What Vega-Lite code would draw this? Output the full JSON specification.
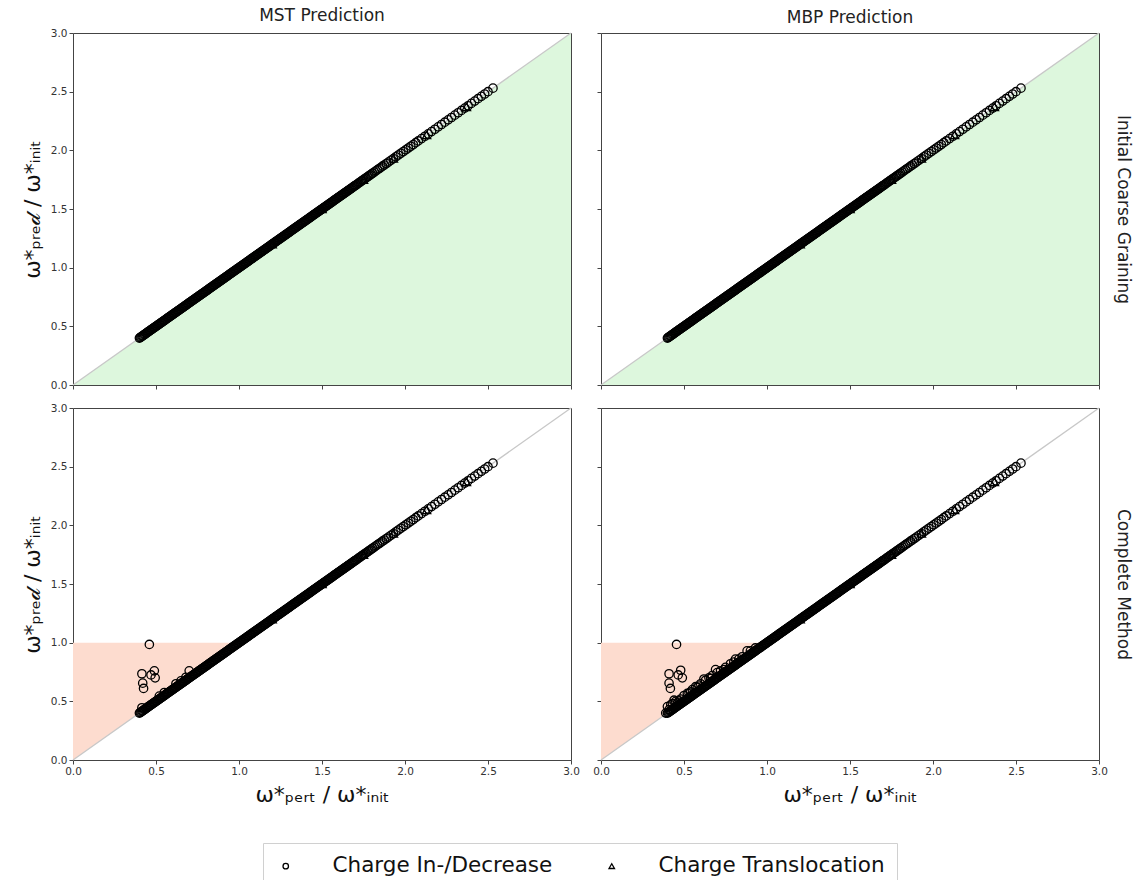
{
  "$schema": "https://vega.github.io/schema/vega-lite/v6.json",
  "padding": {"left": 20, "top": 6, "right": 5, "bottom": 0},
  "config": {
    "font": "DejaVu Sans",
    "view": {"stroke": "#444", "strokeWidth": 1},
    "axis": {"grid": false, "domain": false, "tickColor": "#444", "tickSize": 4, "labelColor": "#333", "labelFontSize": 10.5, "labelFont": "DejaVu Sans", "titleFont": "DejaVu Sans", "titleFontWeight": "normal", "titleColor": "#111", "labelFlush": false, "labelOverlap": false},
    "title": {"fontSize": 17, "fontWeight": "normal", "font": "DejaVu Sans", "color": "#222", "offset": 3},
    "legend": {"labelFont": "DejaVu Sans", "labelLimit": 500},
    "point": {"filled": false, "color": "black", "strokeWidth": 1.3, "size": 70, "opacity": 1}
  },
  "datasets": {
    "line": [{"x": 0, "y": 0}, {"x": 3, "y": 3}],
    "green": [{"x": 0, "y": 0, "y2": 0}, {"x": 3, "y": 3, "y2": 0}],
    "red": [{"x": 0, "y": 1, "y2": 0}, {"x": 1, "y": 1, "y2": 1}],
    "diag": [
      {"x":0.4,"y":0.4,"type":"Charge In-/Decrease"},{"x":0.405,"y":0.405,"type":"Charge In-/Decrease"},{"x":0.41,"y":0.41,"type":"Charge In-/Decrease"},{"x":0.415,"y":0.415,"type":"Charge In-/Decrease"},{"x":0.42,"y":0.42,"type":"Charge In-/Decrease"},{"x":0.425,"y":0.425,"type":"Charge In-/Decrease"},{"x":0.43,"y":0.43,"type":"Charge In-/Decrease"},{"x":0.435,"y":0.435,"type":"Charge In-/Decrease"},{"x":0.44,"y":0.44,"type":"Charge In-/Decrease"},{"x":0.445,"y":0.445,"type":"Charge In-/Decrease"},
      {"x":0.45,"y":0.45,"type":"Charge In-/Decrease"},{"x":0.455,"y":0.455,"type":"Charge In-/Decrease"},{"x":0.46,"y":0.46,"type":"Charge In-/Decrease"},{"x":0.465,"y":0.465,"type":"Charge In-/Decrease"},{"x":0.47,"y":0.47,"type":"Charge In-/Decrease"},{"x":0.475,"y":0.475,"type":"Charge In-/Decrease"},{"x":0.48,"y":0.48,"type":"Charge In-/Decrease"},{"x":0.485,"y":0.485,"type":"Charge In-/Decrease"},{"x":0.49,"y":0.49,"type":"Charge In-/Decrease"},{"x":0.495,"y":0.495,"type":"Charge In-/Decrease"},
      {"x":0.5,"y":0.5,"type":"Charge In-/Decrease"},{"x":0.505,"y":0.505,"type":"Charge In-/Decrease"},{"x":0.51,"y":0.51,"type":"Charge In-/Decrease"},{"x":0.515,"y":0.515,"type":"Charge In-/Decrease"},{"x":0.52,"y":0.52,"type":"Charge In-/Decrease"},{"x":0.525,"y":0.525,"type":"Charge In-/Decrease"},{"x":0.53,"y":0.53,"type":"Charge In-/Decrease"},{"x":0.535,"y":0.535,"type":"Charge In-/Decrease"},{"x":0.54,"y":0.54,"type":"Charge In-/Decrease"},{"x":0.545,"y":0.545,"type":"Charge In-/Decrease"},
      {"x":0.55,"y":0.55,"type":"Charge In-/Decrease"},{"x":0.555,"y":0.555,"type":"Charge In-/Decrease"},{"x":0.56,"y":0.56,"type":"Charge In-/Decrease"},{"x":0.565,"y":0.565,"type":"Charge In-/Decrease"},{"x":0.57,"y":0.57,"type":"Charge In-/Decrease"},{"x":0.575,"y":0.575,"type":"Charge In-/Decrease"},{"x":0.58,"y":0.58,"type":"Charge In-/Decrease"},{"x":0.585,"y":0.585,"type":"Charge In-/Decrease"},{"x":0.59,"y":0.59,"type":"Charge In-/Decrease"},{"x":0.595,"y":0.595,"type":"Charge In-/Decrease"},
      {"x":0.6,"y":0.6,"type":"Charge In-/Decrease"},{"x":0.605,"y":0.605,"type":"Charge In-/Decrease"},{"x":0.61,"y":0.61,"type":"Charge In-/Decrease"},{"x":0.615,"y":0.615,"type":"Charge In-/Decrease"},{"x":0.62,"y":0.62,"type":"Charge In-/Decrease"},{"x":0.625,"y":0.625,"type":"Charge In-/Decrease"},{"x":0.63,"y":0.63,"type":"Charge In-/Decrease"},{"x":0.635,"y":0.635,"type":"Charge In-/Decrease"},{"x":0.64,"y":0.64,"type":"Charge In-/Decrease"},{"x":0.645,"y":0.645,"type":"Charge In-/Decrease"},
      {"x":0.65,"y":0.65,"type":"Charge In-/Decrease"},{"x":0.655,"y":0.655,"type":"Charge In-/Decrease"},{"x":0.66,"y":0.66,"type":"Charge In-/Decrease"},{"x":0.665,"y":0.665,"type":"Charge In-/Decrease"},{"x":0.67,"y":0.67,"type":"Charge In-/Decrease"},{"x":0.675,"y":0.675,"type":"Charge In-/Decrease"},{"x":0.68,"y":0.68,"type":"Charge In-/Decrease"},{"x":0.685,"y":0.685,"type":"Charge In-/Decrease"},{"x":0.69,"y":0.69,"type":"Charge In-/Decrease"},{"x":0.695,"y":0.695,"type":"Charge In-/Decrease"},
      {"x":0.7,"y":0.7,"type":"Charge In-/Decrease"},{"x":0.705,"y":0.705,"type":"Charge In-/Decrease"},{"x":0.71,"y":0.71,"type":"Charge In-/Decrease"},{"x":0.715,"y":0.715,"type":"Charge In-/Decrease"},{"x":0.72,"y":0.72,"type":"Charge In-/Decrease"},{"x":0.725,"y":0.725,"type":"Charge In-/Decrease"},{"x":0.73,"y":0.73,"type":"Charge In-/Decrease"},{"x":0.735,"y":0.735,"type":"Charge In-/Decrease"},{"x":0.74,"y":0.74,"type":"Charge In-/Decrease"},{"x":0.745,"y":0.745,"type":"Charge In-/Decrease"},
      {"x":0.75,"y":0.75,"type":"Charge In-/Decrease"},{"x":0.755,"y":0.755,"type":"Charge In-/Decrease"},{"x":0.76,"y":0.76,"type":"Charge In-/Decrease"},{"x":0.765,"y":0.765,"type":"Charge In-/Decrease"},{"x":0.77,"y":0.77,"type":"Charge In-/Decrease"},{"x":0.775,"y":0.775,"type":"Charge In-/Decrease"},{"x":0.78,"y":0.78,"type":"Charge In-/Decrease"},{"x":0.785,"y":0.785,"type":"Charge In-/Decrease"},{"x":0.79,"y":0.79,"type":"Charge In-/Decrease"},{"x":0.795,"y":0.795,"type":"Charge In-/Decrease"},
      {"x":0.8,"y":0.8,"type":"Charge In-/Decrease"},{"x":0.805,"y":0.805,"type":"Charge In-/Decrease"},{"x":0.81,"y":0.81,"type":"Charge In-/Decrease"},{"x":0.815,"y":0.815,"type":"Charge In-/Decrease"},{"x":0.82,"y":0.82,"type":"Charge In-/Decrease"},{"x":0.825,"y":0.825,"type":"Charge In-/Decrease"},{"x":0.83,"y":0.83,"type":"Charge In-/Decrease"},{"x":0.835,"y":0.835,"type":"Charge In-/Decrease"},{"x":0.84,"y":0.84,"type":"Charge In-/Decrease"},{"x":0.845,"y":0.845,"type":"Charge In-/Decrease"},
      {"x":0.85,"y":0.85,"type":"Charge In-/Decrease"},{"x":0.855,"y":0.855,"type":"Charge In-/Decrease"},{"x":0.86,"y":0.86,"type":"Charge In-/Decrease"},{"x":0.865,"y":0.865,"type":"Charge In-/Decrease"},{"x":0.87,"y":0.87,"type":"Charge In-/Decrease"},{"x":0.875,"y":0.875,"type":"Charge In-/Decrease"},{"x":0.88,"y":0.88,"type":"Charge In-/Decrease"},{"x":0.885,"y":0.885,"type":"Charge In-/Decrease"},{"x":0.89,"y":0.89,"type":"Charge In-/Decrease"},{"x":0.895,"y":0.895,"type":"Charge In-/Decrease"},
      {"x":0.9,"y":0.9,"type":"Charge In-/Decrease"},{"x":0.905,"y":0.905,"type":"Charge In-/Decrease"},{"x":0.91,"y":0.91,"type":"Charge In-/Decrease"},{"x":0.915,"y":0.915,"type":"Charge In-/Decrease"},{"x":0.92,"y":0.92,"type":"Charge In-/Decrease"},{"x":0.925,"y":0.925,"type":"Charge In-/Decrease"},{"x":0.93,"y":0.93,"type":"Charge In-/Decrease"},{"x":0.935,"y":0.935,"type":"Charge In-/Decrease"},{"x":0.94,"y":0.94,"type":"Charge In-/Decrease"},{"x":0.945,"y":0.945,"type":"Charge In-/Decrease"},
      {"x":0.95,"y":0.95,"type":"Charge In-/Decrease"},{"x":0.955,"y":0.955,"type":"Charge In-/Decrease"},{"x":0.96,"y":0.96,"type":"Charge In-/Decrease"},{"x":0.965,"y":0.965,"type":"Charge In-/Decrease"},{"x":0.97,"y":0.97,"type":"Charge In-/Decrease"},{"x":0.975,"y":0.975,"type":"Charge In-/Decrease"},{"x":0.98,"y":0.98,"type":"Charge In-/Decrease"},{"x":0.985,"y":0.985,"type":"Charge In-/Decrease"},{"x":0.99,"y":0.99,"type":"Charge In-/Decrease"},{"x":0.995,"y":0.995,"type":"Charge In-/Decrease"},
      {"x":1.0,"y":1.0,"type":"Charge In-/Decrease"},{"x":1.005,"y":1.005,"type":"Charge In-/Decrease"},{"x":1.01,"y":1.01,"type":"Charge In-/Decrease"},{"x":1.015,"y":1.015,"type":"Charge In-/Decrease"},{"x":1.02,"y":1.02,"type":"Charge In-/Decrease"},{"x":1.025,"y":1.025,"type":"Charge In-/Decrease"},{"x":1.03,"y":1.03,"type":"Charge In-/Decrease"},{"x":1.035,"y":1.035,"type":"Charge In-/Decrease"},{"x":1.04,"y":1.04,"type":"Charge In-/Decrease"},{"x":1.045,"y":1.045,"type":"Charge In-/Decrease"},
      {"x":1.05,"y":1.05,"type":"Charge In-/Decrease"},{"x":1.055,"y":1.055,"type":"Charge In-/Decrease"},{"x":1.06,"y":1.06,"type":"Charge In-/Decrease"},{"x":1.065,"y":1.065,"type":"Charge In-/Decrease"},{"x":1.07,"y":1.07,"type":"Charge In-/Decrease"},{"x":1.075,"y":1.075,"type":"Charge In-/Decrease"},{"x":1.08,"y":1.08,"type":"Charge In-/Decrease"},{"x":1.085,"y":1.085,"type":"Charge In-/Decrease"},{"x":1.09,"y":1.09,"type":"Charge In-/Decrease"},{"x":1.095,"y":1.095,"type":"Charge In-/Decrease"},
      {"x":1.1,"y":1.1,"type":"Charge In-/Decrease"},{"x":1.105,"y":1.105,"type":"Charge In-/Decrease"},{"x":1.11,"y":1.11,"type":"Charge In-/Decrease"},{"x":1.115,"y":1.115,"type":"Charge In-/Decrease"},{"x":1.12,"y":1.12,"type":"Charge In-/Decrease"},{"x":1.125,"y":1.125,"type":"Charge In-/Decrease"},{"x":1.13,"y":1.13,"type":"Charge In-/Decrease"},{"x":1.135,"y":1.135,"type":"Charge In-/Decrease"},{"x":1.14,"y":1.14,"type":"Charge In-/Decrease"},{"x":1.145,"y":1.145,"type":"Charge In-/Decrease"},
      {"x":1.15,"y":1.15,"type":"Charge In-/Decrease"},{"x":1.155,"y":1.155,"type":"Charge In-/Decrease"},{"x":1.16,"y":1.16,"type":"Charge In-/Decrease"},{"x":1.165,"y":1.165,"type":"Charge In-/Decrease"},{"x":1.17,"y":1.17,"type":"Charge In-/Decrease"},{"x":1.175,"y":1.175,"type":"Charge In-/Decrease"},{"x":1.18,"y":1.18,"type":"Charge In-/Decrease"},{"x":1.185,"y":1.185,"type":"Charge In-/Decrease"},{"x":1.19,"y":1.19,"type":"Charge In-/Decrease"},{"x":1.195,"y":1.195,"type":"Charge In-/Decrease"},
      {"x":1.2,"y":1.2,"type":"Charge In-/Decrease"},{"x":1.205,"y":1.205,"type":"Charge In-/Decrease"},{"x":1.21,"y":1.21,"type":"Charge In-/Decrease"},{"x":1.215,"y":1.215,"type":"Charge In-/Decrease"},{"x":1.22,"y":1.22,"type":"Charge In-/Decrease"},{"x":1.225,"y":1.225,"type":"Charge In-/Decrease"},{"x":1.23,"y":1.23,"type":"Charge In-/Decrease"},{"x":1.235,"y":1.235,"type":"Charge In-/Decrease"},{"x":1.24,"y":1.24,"type":"Charge In-/Decrease"},{"x":1.245,"y":1.245,"type":"Charge In-/Decrease"},
      {"x":1.25,"y":1.25,"type":"Charge In-/Decrease"},{"x":1.255,"y":1.255,"type":"Charge In-/Decrease"},{"x":1.26,"y":1.26,"type":"Charge In-/Decrease"},{"x":1.265,"y":1.265,"type":"Charge In-/Decrease"},{"x":1.27,"y":1.27,"type":"Charge In-/Decrease"},{"x":1.275,"y":1.275,"type":"Charge In-/Decrease"},{"x":1.28,"y":1.28,"type":"Charge In-/Decrease"},{"x":1.285,"y":1.285,"type":"Charge In-/Decrease"},{"x":1.29,"y":1.29,"type":"Charge In-/Decrease"},{"x":1.295,"y":1.295,"type":"Charge In-/Decrease"},
      {"x":1.3,"y":1.3,"type":"Charge In-/Decrease"},{"x":1.305,"y":1.305,"type":"Charge In-/Decrease"},{"x":1.31,"y":1.31,"type":"Charge In-/Decrease"},{"x":1.315,"y":1.315,"type":"Charge In-/Decrease"},{"x":1.32,"y":1.32,"type":"Charge In-/Decrease"},{"x":1.325,"y":1.325,"type":"Charge In-/Decrease"},{"x":1.33,"y":1.33,"type":"Charge In-/Decrease"},{"x":1.335,"y":1.335,"type":"Charge In-/Decrease"},{"x":1.34,"y":1.34,"type":"Charge In-/Decrease"},{"x":1.345,"y":1.345,"type":"Charge In-/Decrease"},
      {"x":1.35,"y":1.35,"type":"Charge In-/Decrease"},{"x":1.355,"y":1.355,"type":"Charge In-/Decrease"},{"x":1.36,"y":1.36,"type":"Charge In-/Decrease"},{"x":1.365,"y":1.365,"type":"Charge In-/Decrease"},{"x":1.37,"y":1.37,"type":"Charge In-/Decrease"},{"x":1.375,"y":1.375,"type":"Charge In-/Decrease"},{"x":1.38,"y":1.38,"type":"Charge In-/Decrease"},{"x":1.385,"y":1.385,"type":"Charge In-/Decrease"},{"x":1.39,"y":1.39,"type":"Charge In-/Decrease"},{"x":1.395,"y":1.395,"type":"Charge In-/Decrease"},
      {"x":1.4,"y":1.4,"type":"Charge In-/Decrease"},{"x":1.405,"y":1.405,"type":"Charge In-/Decrease"},{"x":1.41,"y":1.41,"type":"Charge In-/Decrease"},{"x":1.415,"y":1.415,"type":"Charge In-/Decrease"},{"x":1.42,"y":1.42,"type":"Charge In-/Decrease"},{"x":1.425,"y":1.425,"type":"Charge In-/Decrease"},{"x":1.43,"y":1.43,"type":"Charge In-/Decrease"},{"x":1.435,"y":1.435,"type":"Charge In-/Decrease"},{"x":1.44,"y":1.44,"type":"Charge In-/Decrease"},{"x":1.445,"y":1.445,"type":"Charge In-/Decrease"},
      {"x":1.45,"y":1.45,"type":"Charge In-/Decrease"},{"x":1.455,"y":1.455,"type":"Charge In-/Decrease"},{"x":1.46,"y":1.46,"type":"Charge In-/Decrease"},{"x":1.465,"y":1.465,"type":"Charge In-/Decrease"},{"x":1.47,"y":1.47,"type":"Charge In-/Decrease"},{"x":1.475,"y":1.475,"type":"Charge In-/Decrease"},{"x":1.48,"y":1.48,"type":"Charge In-/Decrease"},{"x":1.485,"y":1.485,"type":"Charge In-/Decrease"},{"x":1.49,"y":1.49,"type":"Charge In-/Decrease"},{"x":1.495,"y":1.495,"type":"Charge In-/Decrease"},
      {"x":1.5,"y":1.5,"type":"Charge In-/Decrease"},{"x":1.505,"y":1.505,"type":"Charge In-/Decrease"},{"x":1.51,"y":1.51,"type":"Charge In-/Decrease"},{"x":1.515,"y":1.515,"type":"Charge In-/Decrease"},{"x":1.52,"y":1.52,"type":"Charge In-/Decrease"},{"x":1.525,"y":1.525,"type":"Charge In-/Decrease"},{"x":1.53,"y":1.53,"type":"Charge In-/Decrease"},{"x":1.535,"y":1.535,"type":"Charge In-/Decrease"},{"x":1.54,"y":1.54,"type":"Charge In-/Decrease"},{"x":1.545,"y":1.545,"type":"Charge In-/Decrease"},
      {"x":1.55,"y":1.55,"type":"Charge In-/Decrease"},{"x":1.555,"y":1.555,"type":"Charge In-/Decrease"},{"x":1.56,"y":1.56,"type":"Charge In-/Decrease"},{"x":1.565,"y":1.565,"type":"Charge In-/Decrease"},{"x":1.57,"y":1.57,"type":"Charge In-/Decrease"},{"x":1.575,"y":1.575,"type":"Charge In-/Decrease"},{"x":1.58,"y":1.58,"type":"Charge In-/Decrease"},{"x":1.585,"y":1.585,"type":"Charge In-/Decrease"},{"x":1.59,"y":1.59,"type":"Charge In-/Decrease"},{"x":1.595,"y":1.595,"type":"Charge In-/Decrease"},
      {"x":1.6,"y":1.6,"type":"Charge In-/Decrease"},{"x":1.605,"y":1.605,"type":"Charge In-/Decrease"},{"x":1.61,"y":1.61,"type":"Charge In-/Decrease"},{"x":1.615,"y":1.615,"type":"Charge In-/Decrease"},{"x":1.62,"y":1.62,"type":"Charge In-/Decrease"},{"x":1.625,"y":1.625,"type":"Charge In-/Decrease"},{"x":1.63,"y":1.63,"type":"Charge In-/Decrease"},{"x":1.635,"y":1.635,"type":"Charge In-/Decrease"},{"x":1.64,"y":1.64,"type":"Charge In-/Decrease"},{"x":1.645,"y":1.645,"type":"Charge In-/Decrease"},
      {"x":1.65,"y":1.65,"type":"Charge In-/Decrease"},{"x":1.655,"y":1.655,"type":"Charge In-/Decrease"},{"x":1.66,"y":1.66,"type":"Charge In-/Decrease"},{"x":1.665,"y":1.665,"type":"Charge In-/Decrease"},{"x":1.67,"y":1.67,"type":"Charge In-/Decrease"},{"x":1.675,"y":1.675,"type":"Charge In-/Decrease"},{"x":1.68,"y":1.68,"type":"Charge In-/Decrease"},{"x":1.685,"y":1.685,"type":"Charge In-/Decrease"},{"x":1.69,"y":1.69,"type":"Charge In-/Decrease"},{"x":1.695,"y":1.695,"type":"Charge In-/Decrease"},
      {"x":1.7,"y":1.7,"type":"Charge In-/Decrease"},{"x":1.707,"y":1.707,"type":"Charge In-/Decrease"},{"x":1.715,"y":1.715,"type":"Charge In-/Decrease"},{"x":1.722,"y":1.722,"type":"Charge In-/Decrease"},{"x":1.73,"y":1.73,"type":"Charge In-/Decrease"},{"x":1.737,"y":1.737,"type":"Charge In-/Decrease"},{"x":1.745,"y":1.745,"type":"Charge In-/Decrease"},{"x":1.752,"y":1.752,"type":"Charge In-/Decrease"},{"x":1.76,"y":1.76,"type":"Charge In-/Decrease"},{"x":1.767,"y":1.767,"type":"Charge In-/Decrease"},
      {"x":1.775,"y":1.775,"type":"Charge In-/Decrease"},{"x":1.782,"y":1.782,"type":"Charge In-/Decrease"},{"x":1.79,"y":1.79,"type":"Charge In-/Decrease"},{"x":1.797,"y":1.797,"type":"Charge In-/Decrease"},
      {"x":1.805,"y":1.805,"type":"Charge In-/Decrease"},{"x":1.815,"y":1.815,"type":"Charge In-/Decrease"},{"x":1.825,"y":1.825,"type":"Charge In-/Decrease"},{"x":1.835,"y":1.835,"type":"Charge In-/Decrease"},{"x":1.845,"y":1.845,"type":"Charge In-/Decrease"},{"x":1.855,"y":1.855,"type":"Charge In-/Decrease"},{"x":1.865,"y":1.865,"type":"Charge In-/Decrease"},{"x":1.875,"y":1.875,"type":"Charge In-/Decrease"},{"x":1.888,"y":1.888,"type":"Charge In-/Decrease"},{"x":1.9,"y":1.9,"type":"Charge In-/Decrease"},{"x":1.915,"y":1.915,"type":"Charge In-/Decrease"},
      {"x":1.93,"y":1.93,"type":"Charge In-/Decrease"},{"x":1.945,"y":1.945,"type":"Charge In-/Decrease"},{"x":1.96,"y":1.96,"type":"Charge In-/Decrease"},{"x":1.975,"y":1.975,"type":"Charge In-/Decrease"},{"x":1.99,"y":1.99,"type":"Charge In-/Decrease"},{"x":2.005,"y":2.005,"type":"Charge In-/Decrease"},{"x":2.02,"y":2.02,"type":"Charge In-/Decrease"},{"x":2.035,"y":2.035,"type":"Charge In-/Decrease"},{"x":2.05,"y":2.05,"type":"Charge In-/Decrease"},{"x":2.065,"y":2.065,"type":"Charge In-/Decrease"},
      {"x":2.08,"y":2.08,"type":"Charge In-/Decrease"},{"x":2.1,"y":2.1,"type":"Charge In-/Decrease"},{"x":2.12,"y":2.12,"type":"Charge In-/Decrease"},{"x":2.14,"y":2.14,"type":"Charge In-/Decrease"},{"x":2.16,"y":2.16,"type":"Charge In-/Decrease"},{"x":2.18,"y":2.18,"type":"Charge In-/Decrease"},{"x":2.2,"y":2.2,"type":"Charge In-/Decrease"},{"x":2.22,"y":2.22,"type":"Charge In-/Decrease"},{"x":2.24,"y":2.24,"type":"Charge In-/Decrease"},{"x":2.26,"y":2.26,"type":"Charge In-/Decrease"},
      {"x":2.28,"y":2.28,"type":"Charge In-/Decrease"},{"x":2.3,"y":2.3,"type":"Charge In-/Decrease"},{"x":2.32,"y":2.32,"type":"Charge In-/Decrease"},{"x":2.34,"y":2.34,"type":"Charge In-/Decrease"},{"x":2.36,"y":2.36,"type":"Charge In-/Decrease"},{"x":2.38,"y":2.38,"type":"Charge In-/Decrease"},{"x":2.4,"y":2.4,"type":"Charge In-/Decrease"},{"x":2.42,"y":2.42,"type":"Charge In-/Decrease"},{"x":2.44,"y":2.44,"type":"Charge In-/Decrease"},{"x":2.46,"y":2.46,"type":"Charge In-/Decrease"},
      {"x":2.48,"y":2.48,"type":"Charge In-/Decrease"},{"x":2.5,"y":2.5,"type":"Charge In-/Decrease"},{"x":2.53,"y":2.53,"type":"Charge In-/Decrease"},
      {"x":1.2,"y":1.2,"type":"Charge Translocation"},{"x":1.5,"y":1.5,"type":"Charge Translocation"},{"x":1.75,"y":1.75,"type":"Charge Translocation"},{"x":1.93,"y":1.93,"type":"Charge Translocation"},{"x":2.13,"y":2.13,"type":"Charge Translocation"},{"x":2.37,"y":2.37,"type":"Charge Translocation"}
    ],
    "outMST": [
      {"x":0.46,"y":0.985,"type":"Charge In-/Decrease"},{"x":0.415,"y":0.735,"type":"Charge In-/Decrease"},{"x":0.49,"y":0.76,"type":"Charge In-/Decrease"},{"x":0.47,"y":0.725,"type":"Charge In-/Decrease"},{"x":0.495,"y":0.70,"type":"Charge In-/Decrease"},{"x":0.42,"y":0.655,"type":"Charge In-/Decrease"},{"x":0.425,"y":0.61,"type":"Charge In-/Decrease"},{"x":0.70,"y":0.76,"type":"Charge In-/Decrease"},{"x":0.415,"y":0.445,"type":"Charge In-/Decrease"},{"x":0.52,"y":0.545,"type":"Charge In-/Decrease"},{"x":0.55,"y":0.575,"type":"Charge In-/Decrease"},{"x":0.62,"y":0.65,"type":"Charge In-/Decrease"},{"x":0.65,"y":0.675,"type":"Charge In-/Decrease"},{"x":0.68,"y":0.705,"type":"Charge In-/Decrease"}
    ],
    "outMBP": [
      {"x":0.455,"y":0.985,"type":"Charge In-/Decrease"},{"x":0.41,"y":0.735,"type":"Charge In-/Decrease"},{"x":0.48,"y":0.765,"type":"Charge In-/Decrease"},{"x":0.465,"y":0.725,"type":"Charge In-/Decrease"},{"x":0.49,"y":0.70,"type":"Charge In-/Decrease"},{"x":0.41,"y":0.655,"type":"Charge In-/Decrease"},{"x":0.418,"y":0.61,"type":"Charge In-/Decrease"},
      {"x":0.69,"y":0.77,"type":"Charge In-/Decrease"},{"x":0.81,"y":0.86,"type":"Charge In-/Decrease"},{"x":0.88,"y":0.93,"type":"Charge In-/Decrease"},{"x":0.62,"y":0.69,"type":"Charge In-/Decrease"},{"x":0.57,"y":0.625,"type":"Charge In-/Decrease"},{"x":0.52,"y":0.568,"type":"Charge In-/Decrease"},{"x":0.44,"y":0.51,"type":"Charge In-/Decrease"},{"x":0.40,"y":0.455,"type":"Charge In-/Decrease"},{"x":0.39,"y":0.40,"type":"Charge In-/Decrease"},
      {"x":0.42,"y":0.47,"type":"Charge In-/Decrease"},{"x":0.45,"y":0.50,"type":"Charge In-/Decrease"},{"x":0.48,"y":0.52,"type":"Charge In-/Decrease"},{"x":0.50,"y":0.55,"type":"Charge In-/Decrease"},{"x":0.53,"y":0.57,"type":"Charge In-/Decrease"},{"x":0.55,"y":0.60,"type":"Charge In-/Decrease"},{"x":0.58,"y":0.62,"type":"Charge In-/Decrease"},{"x":0.60,"y":0.65,"type":"Charge In-/Decrease"},{"x":0.63,"y":0.68,"type":"Charge In-/Decrease"},{"x":0.65,"y":0.70,"type":"Charge In-/Decrease"},{"x":0.67,"y":0.72,"type":"Charge In-/Decrease"},{"x":0.70,"y":0.745,"type":"Charge In-/Decrease"},{"x":0.72,"y":0.76,"type":"Charge In-/Decrease"},{"x":0.75,"y":0.79,"type":"Charge In-/Decrease"},{"x":0.78,"y":0.82,"type":"Charge In-/Decrease"},{"x":0.80,"y":0.835,"type":"Charge In-/Decrease"},{"x":0.85,"y":0.88,"type":"Charge In-/Decrease"},{"x":0.90,"y":0.93,"type":"Charge In-/Decrease"},{"x":0.93,"y":0.955,"type":"Charge In-/Decrease"},{"x":0.43,"y":0.48,"type":"Charge In-/Decrease"},{"x":0.47,"y":0.505,"type":"Charge In-/Decrease"},{"x":0.54,"y":0.58,"type":"Charge In-/Decrease"},{"x":0.59,"y":0.63,"type":"Charge In-/Decrease"},{"x":0.66,"y":0.695,"type":"Charge In-/Decrease"},{"x":0.74,"y":0.77,"type":"Charge In-/Decrease"},{"x":0.83,"y":0.86,"type":"Charge In-/Decrease"},{"x":0.41,"y":0.43,"type":"Charge In-/Decrease"},{"x":0.46,"y":0.485,"type":"Charge In-/Decrease"}
    ]
  },
  "resolve": {"scale": {"shape": "shared"}, "legend": {"shape": "shared"}},
  "spacing": 11,
  "vconcat": [
    {
      "spacing": 30,
      "bounds": "flush",
      "resolve": {"scale": {"shape": "shared"}, "legend": {"shape": "shared"}},
      "hconcat": [
        {
          "width": 498, "height": 352,
          "title": {"text": "MST Prediction"},
          "layer": [
            {"data": {"name": "green"}, "mark": {"type": "area", "color": "#ddf7dd", "opacity": 1},
             "encoding": {
               "x": {"field": "x", "type": "quantitative", "scale": {"domain": [0, 3], "nice": false, "zero": false}, "axis": {"values": [0, 0.5, 1, 1.5, 2, 2.5, 3], "labels": false, "title": null}},
               "y": {"field": "y", "type": "quantitative", "scale": {"domain": [0, 3], "nice": false, "zero": false}, "axis": {"values": [0, 0.5, 1, 1.5, 2, 2.5, 3], "format": ".1f", "title": "ω*ₚᵣₑ𝒹 / ω*ᵢₙᵢₜ", "titleFontSize": 22, "titlePadding": 6}},
               "y2": {"field": "y2"}}},
            {"data": {"name": "line"}, "mark": {"type": "line", "color": "#c8c8c8", "strokeWidth": 1.3},
             "encoding": {"x": {"field": "x", "type": "quantitative"}, "y": {"field": "y", "type": "quantitative"}}},
            {"data": {"name": "diag"}, "mark": {"type": "point"},
             "encoding": {"x": {"field": "x", "type": "quantitative"}, "y": {"field": "y", "type": "quantitative"},
               "shape": {"field": "type", "type": "nominal", "scale": {"domain": ["Charge In-/Decrease", "Charge Translocation"], "range": ["circle", "triangle-up"]},
                 "legend": {"orient": "none", "legendX": 190, "legendY": 810, "direction": "horizontal", "title": null, "labelFontSize": 21.5, "symbolSize": 30, "labelOffset": 36, "columnPadding": 48, "padding": 12, "strokeColor": "#d0d0d0", "symbolStrokeColor": "black", "symbolStrokeWidth": 1, "labelColor": "#111"}}}}
          ]
        },
        {
          "width": 498, "height": 352,
          "title": {"text": "MBP Prediction"},
          "resolve": {"axis": {"y": "independent"}},
          "layer": [
            {"data": {"name": "green"}, "mark": {"type": "area", "color": "#ddf7dd", "opacity": 1},
             "encoding": {
               "x": {"field": "x", "type": "quantitative", "scale": {"domain": [0, 3], "nice": false, "zero": false}, "axis": {"values": [0, 0.5, 1, 1.5, 2, 2.5, 3], "labels": false, "title": null}},
               "y": {"field": "y", "type": "quantitative", "scale": {"domain": [0, 3], "nice": false, "zero": false}, "axis": {"values": [0, 0.5, 1, 1.5, 2, 2.5, 3], "labels": false, "title": null}},
               "y2": {"field": "y2"}}},
            {"data": {"name": "line"}, "mark": {"type": "line", "color": "#c8c8c8", "strokeWidth": 1.3},
             "encoding": {"x": {"field": "x", "type": "quantitative"}, "y": {"field": "y", "type": "quantitative", "axis": {"orient": "right", "labels": false, "ticks": false, "domain": false, "title": "Initial Coarse Graining", "titleFontSize": 17, "titlePadding": 14, "titleColor": "#222"}}}},
            {"data": {"name": "diag"}, "mark": {"type": "point"},
             "encoding": {"x": {"field": "x", "type": "quantitative"}, "y": {"field": "y", "type": "quantitative", "axis": null},
               "shape": {"field": "type", "type": "nominal", "scale": {"domain": ["Charge In-/Decrease", "Charge Translocation"], "range": ["circle", "triangle-up"]},
                 "legend": {"orient": "none", "legendX": 190, "legendY": 810, "direction": "horizontal", "title": null, "labelFontSize": 21.5, "symbolSize": 30, "labelOffset": 36, "columnPadding": 48, "padding": 12, "strokeColor": "#d0d0d0", "symbolStrokeColor": "black", "symbolStrokeWidth": 1, "labelColor": "#111"}}}}
          ]
        }
      ]
    },
    {
      "spacing": 30,
      "bounds": "flush",
      "resolve": {"scale": {"shape": "shared"}, "legend": {"shape": "shared"}},
      "hconcat": [
        {
          "width": 498, "height": 352,
          "layer": [
            {"data": {"name": "red"}, "mark": {"type": "area", "color": "#fddccf", "opacity": 1},
             "encoding": {
               "x": {"field": "x", "type": "quantitative", "scale": {"domain": [0, 3], "nice": false, "zero": false}, "axis": {"values": [0, 0.5, 1, 1.5, 2, 2.5, 3], "format": ".1f", "title": "ω*ₚₑᵣₜ / ω*ᵢₙᵢₜ", "titleFontSize": 22, "titlePadding": 8}},
               "y": {"field": "y", "type": "quantitative", "scale": {"domain": [0, 3], "nice": false, "zero": false}, "axis": {"values": [0, 0.5, 1, 1.5, 2, 2.5, 3], "format": ".1f", "title": "ω*ₚᵣₑ𝒹 / ω*ᵢₙᵢₜ", "titleFontSize": 22, "titlePadding": 6}},
               "y2": {"field": "y2"}}},
            {"data": {"name": "line"}, "mark": {"type": "line", "color": "#c8c8c8", "strokeWidth": 1.3},
             "encoding": {"x": {"field": "x", "type": "quantitative"}, "y": {"field": "y", "type": "quantitative"}}},
            {"data": {"name": "diag"}, "mark": {"type": "point"},
             "encoding": {"x": {"field": "x", "type": "quantitative"}, "y": {"field": "y", "type": "quantitative"},
               "shape": {"field": "type", "type": "nominal", "scale": {"domain": ["Charge In-/Decrease", "Charge Translocation"], "range": ["circle", "triangle-up"]},
                 "legend": {"orient": "none", "legendX": 190, "legendY": 810, "direction": "horizontal", "title": null, "labelFontSize": 21.5, "symbolSize": 30, "labelOffset": 36, "columnPadding": 48, "padding": 12, "strokeColor": "#d0d0d0", "symbolStrokeColor": "black", "symbolStrokeWidth": 1, "labelColor": "#111"}}}},
            {"data": {"name": "outMST"}, "mark": {"type": "point"},
             "encoding": {"x": {"field": "x", "type": "quantitative"}, "y": {"field": "y", "type": "quantitative"},
               "shape": {"field": "type", "type": "nominal", "scale": {"domain": ["Charge In-/Decrease", "Charge Translocation"], "range": ["circle", "triangle-up"]},
                 "legend": {"orient": "none", "legendX": 190, "legendY": 810, "direction": "horizontal", "title": null, "labelFontSize": 21.5, "symbolSize": 30, "labelOffset": 36, "columnPadding": 48, "padding": 12, "strokeColor": "#d0d0d0", "symbolStrokeColor": "black", "symbolStrokeWidth": 1, "labelColor": "#111"}}}}
          ]
        },
        {
          "width": 498, "height": 352,
          "resolve": {"axis": {"y": "independent"}},
          "layer": [
            {"data": {"name": "red"}, "mark": {"type": "area", "color": "#fddccf", "opacity": 1},
             "encoding": {
               "x": {"field": "x", "type": "quantitative", "scale": {"domain": [0, 3], "nice": false, "zero": false}, "axis": {"values": [0, 0.5, 1, 1.5, 2, 2.5, 3], "format": ".1f", "title": "ω*ₚₑᵣₜ / ω*ᵢₙᵢₜ", "titleFontSize": 22, "titlePadding": 8}},
               "y": {"field": "y", "type": "quantitative", "scale": {"domain": [0, 3], "nice": false, "zero": false}, "axis": {"values": [0, 0.5, 1, 1.5, 2, 2.5, 3], "labels": false, "title": null}},
               "y2": {"field": "y2"}}},
            {"data": {"name": "line"}, "mark": {"type": "line", "color": "#c8c8c8", "strokeWidth": 1.3},
             "encoding": {"x": {"field": "x", "type": "quantitative"}, "y": {"field": "y", "type": "quantitative", "axis": {"orient": "right", "labels": false, "ticks": false, "domain": false, "title": "Complete Method", "titleFontSize": 17, "titlePadding": 14, "titleColor": "#222"}}}},
            {"data": {"name": "diag"}, "mark": {"type": "point"},
             "encoding": {"x": {"field": "x", "type": "quantitative"}, "y": {"field": "y", "type": "quantitative", "axis": null},
               "shape": {"field": "type", "type": "nominal", "scale": {"domain": ["Charge In-/Decrease", "Charge Translocation"], "range": ["circle", "triangle-up"]},
                 "legend": {"orient": "none", "legendX": 190, "legendY": 810, "direction": "horizontal", "title": null, "labelFontSize": 21.5, "symbolSize": 30, "labelOffset": 36, "columnPadding": 48, "padding": 12, "strokeColor": "#d0d0d0", "symbolStrokeColor": "black", "symbolStrokeWidth": 1, "labelColor": "#111"}}}},
            {"data": {"name": "outMBP"}, "mark": {"type": "point"},
             "encoding": {"x": {"field": "x", "type": "quantitative"}, "y": {"field": "y", "type": "quantitative", "axis": null},
               "shape": {"field": "type", "type": "nominal", "scale": {"domain": ["Charge In-/Decrease", "Charge Translocation"], "range": ["circle", "triangle-up"]},
                 "legend": {"orient": "none", "legendX": 190, "legendY": 810, "direction": "horizontal", "title": null, "labelFontSize": 21.5, "symbolSize": 30, "labelOffset": 36, "columnPadding": 48, "padding": 12, "strokeColor": "#d0d0d0", "symbolStrokeColor": "black", "symbolStrokeWidth": 1, "labelColor": "#111"}}}}
          ]
        }
      ]
    }
  ]
}
